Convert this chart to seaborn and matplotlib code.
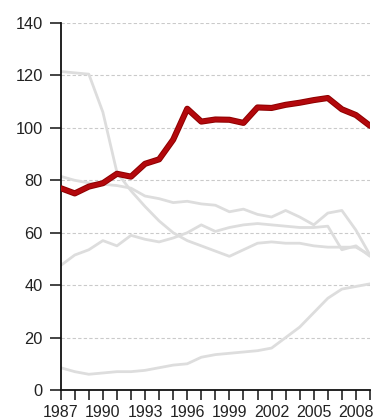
import matplotlib
matplotlib.use("Agg")
import matplotlib.pyplot as plt
import seaborn as sns
import pandas as pd

years = list(range(1987, 2010))

# highlighted series
highlight = [77, 75, 77.6, 78.9, 82.5, 81.4, 86.3, 88, 95.5, 107.3, 102.4, 103.2,
             103.1, 101.9, 107.8, 107.6, 108.8, 109.6, 110.6, 111.4, 107.1, 104.9, 100.8]

# background series
series_a = [121.5, 121, 120.5, 106, 83, 76, 70, 64.5, 60, 57, 55, 53,
            51, 53.5, 56, 56.5, 56, 56, 55, 54.5, 54.5, 54.5, 51.5]
series_b = [81.5, 80, 79, 78.5, 78, 77, 74, 73, 71.5, 72, 71, 70.5,
            68, 69, 67, 66, 68.5, 66, 63, 67.5, 68.5, 61, 51.5]
series_c = [47.5, 51.5, 53.5, 57, 55, 59, 57.5, 56.5, 58, 60, 63, 60.5,
            62, 63, 63.5, 63, 62.5, 62, 62, 62.5, 53.5, 55, 51]
series_d = [8.5, 7, 6, 6.5, 7, 7, 7.5, 8.5, 9.5, 10, 12.5, 13.5,
            14, 14.5, 15, 16, 20, 24, 29.5, 35, 38.5, 39.5, 40.5]

yticks = [0, 20, 40, 60, 80, 100, 120, 140]
xlabels = list(range(1987, 2009, 3))

sns.set_theme(style="white")
plt.rcParams["font.family"] = ["Liberation Sans", "DejaVu Sans"]

back = pd.DataFrame({
    "year": years * 4,
    "value": series_a + series_b + series_c + series_d,
    "series": ["a"] * 23 + ["b"] * 23 + ["c"] * 23 + ["d"] * 23,
})
front = pd.DataFrame({"year": years, "value": highlight})

fig = plt.figure(figsize=(3.83, 4.19), dpi=100)
ax = fig.add_axes([0.1585, 0.0692, 0.8075, 0.8758])

for y in yticks[1:]:
    ax.axhline(y, color="#cacaca", lw=0.8, ls=(0, (3, 2)), zorder=0)

sns.lineplot(data=back, x="year", y="value", units="series", estimator=None,
             color="#dddddd", lw=2.0, ax=ax, legend=False, zorder=2)
sns.lineplot(data=front, x="year", y="value", color="#8e0000", lw=4.4,
             ax=ax, legend=False, zorder=3)
sns.lineplot(data=front, x="year", y="value", color="#b3080c", lw=3.0,
             ax=ax, legend=False, zorder=4)

ax.set_xlim(1987, 2009)
ax.set_ylim(0, 140)
ax.set_yticks(yticks)
ax.set_xticks(years, minor=False)
ax.set_xticklabels([str(y) if y in xlabels else "" for y in years])
ax.set_xlabel("")
ax.set_ylabel("")

for side in ("top", "right"):
    ax.spines[side].set_visible(False)
for side in ("left", "bottom"):
    ax.spines[side].set_color("#111111")
    ax.spines[side].set_linewidth(1.3)

ax.tick_params(axis="y", length=8, width=1.1, color="#111111", pad=5,
               labelsize=11.8, labelcolor="#222222", left=True)
ax.tick_params(axis="x", length=7, width=1.1, color="#111111", pad=4,
               labelsize=11.5, labelcolor="#222222", bottom=True)

fig.savefig("out.png", dpi=100)
